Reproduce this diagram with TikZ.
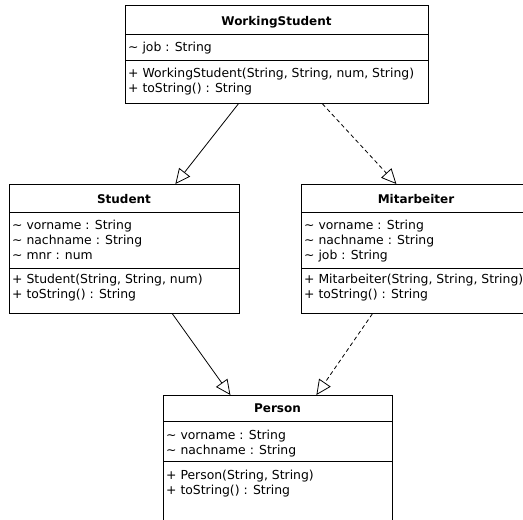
\documentclass[tikz,border=0pt]{standalone}
\usepackage{fontspec}
\setmainfont{DejaVu Sans}
\usetikzlibrary{arrows.meta}

\tikzset{
  classbox/.style={draw, rectangle, anchor=north west, inner sep=0pt, line width=0.8pt},
  classname/.style={anchor=base, inner sep=0pt, font=\bfseries\fontsize{12}{15}\selectfont},
  members/.style={anchor=base west, align=left, inner sep=0pt, font=\fontsize{12.4}{15}\selectfont},
  divider/.style={line width=0.8pt},
  inherit/.style={-{Triangle[open, length=15pt, width=14pt]}, line width=0.8pt},
  realize/.style={inherit, dash pattern=on 4pt off 3pt},
}

\begin{document}
\begin{tikzpicture}[x=1pt, y=-1pt]
  \useasboundingbox (0,0) rectangle (523,520);
  \clip (0,0) rectangle (523,520);

  % WorkingStudent
  \node[classbox, minimum width=303pt, minimum height=98pt] (ws) at (125,5) {};
  \node[classname] (ws-name) at (276.5,25) {WorkingStudent};
  \node[members] (ws-attr) at (128,51) {\textasciitilde\ job : String};
  \node[members] (ws-ops) at (128,92) {+ WorkingStudent(String, String, num, String)\\+ toString() : String};
  \draw[divider] (ws.west |- 0,34) -- (ws.east |- 0,34);
  \draw[divider] (ws.west |- 0,60) -- (ws.east |- 0,60);

  % Student
  \node[classbox, minimum width=230pt, minimum height=129pt] (student) at (9,184) {};
  \node[classname] (student-name) at (124,203) {Student};
  \node[members] (student-attr) at (12,259) {\textasciitilde\ vorname : String\\\textasciitilde\ nachname : String\\\textasciitilde\ mnr : num};
  \node[members] (student-ops) at (12,298) {+ Student(String, String, num)\\+ toString() : String};
  \draw[divider] (student.west |- 0,212) -- (student.east |- 0,212);
  \draw[divider] (student.west |- 0,268) -- (student.east |- 0,268);

  % Mitarbeiter
  \node[classbox, minimum width=230pt, minimum height=129pt] (mitarbeiter) at (301,184) {};
  \node[classname] (mitarbeiter-name) at (416,203) {Mitarbeiter};
  \node[members] (mitarbeiter-attr) at (304,259) {\textasciitilde\ vorname : String\\\textasciitilde\ nachname : String\\\textasciitilde\ job : String};
  \node[members] (mitarbeiter-ops) at (304,298) {+ Mitarbeiter(String, String, String)\\+ toString() : String};
  \draw[divider] (mitarbeiter.west |- 0,212) -- (mitarbeiter.east |- 0,212);
  \draw[divider] (mitarbeiter.west |- 0,268) -- (mitarbeiter.east |- 0,268);

  % Person
  \node[classbox, minimum width=229pt, minimum height=132pt] (person) at (163,395) {};
  \node[classname] (person-name) at (277.5,412) {Person};
  \node[members] (person-attr) at (166,454) {\textasciitilde\ vorname : String\\\textasciitilde\ nachname : String};
  \node[members] (person-ops) at (166,494) {+ Person(String, String)\\+ toString() : String};
  \draw[divider] (person.west |- 0,421) -- (person.east |- 0,421);
  \draw[divider] (person.west |- 0,461) -- (person.east |- 0,461);

  % generalisations
  \draw[inherit] ([xshift=-38.5pt]ws.south) -- ([xshift=51pt]student.north);
  \draw[realize] ([xshift=45.5pt]ws.south) -- ([xshift=-20pt]mitarbeiter.north);
  \draw[inherit] ([xshift=48pt]student.south) -- ([xshift=-47.5pt]person.north);
  \draw[realize] ([xshift=-44pt]mitarbeiter.south) -- ([xshift=38.5pt]person.north);
\end{tikzpicture}
\end{document}
